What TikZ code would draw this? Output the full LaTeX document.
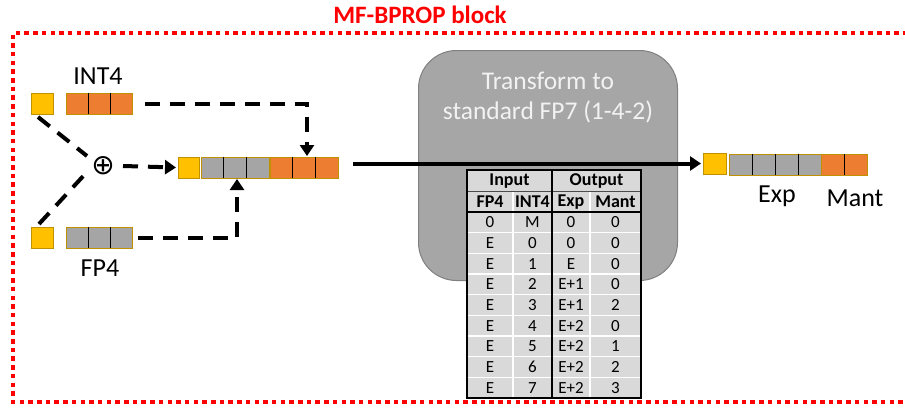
\documentclass[tikz,border=0pt]{standalone}
\usepackage{fontspec}
\setmainfont{Carlito}
\newfontfamily\symfont{DejaVu Sans}
\usetikzlibrary{arrows.meta,calc}
\definecolor{signy}{HTML}{FFC000}
\definecolor{orng}{HTML}{ED7D31}
\definecolor{gry}{HTML}{A5A5A5}
\definecolor{gold}{HTML}{BF9000}
\definecolor{boxg}{HTML}{A6A6A6}
\definecolor{boxedge}{HTML}{808080}
\definecolor{tabg}{HTML}{D9D9D9}
\definecolor{redln}{HTML}{FF0000}
\definecolor{boxtxt}{HTML}{F2F2F2}
\begin{document}
\begin{tikzpicture}[x=1pt,y=-1pt,
  cellbox/.style={draw=gold, line width=1pt, minimum height=21pt, inner sep=0pt, outer sep=0pt, anchor=north west},
  sgn/.style={cellbox, fill=signy, minimum width=22pt},
  obar/.style={cellbox, fill=orng},
  gbar/.style={cellbox, fill=gry},
  divln/.style={black, line width=0.8pt},
  dashln/.style={black, line width=4pt, dash pattern=on 15pt off 10pt},
  solidln/.style={black, line width=4pt},
  arr/.style={-{Triangle[length=11pt,width=14pt]}},
  lbl/.style={font=\fontsize{26}{30}\selectfont, inner sep=0pt},
  tabtxt/.style={font=\fontsize{17}{20}\selectfont, inner sep=0pt},
  tabhd/.style={font=\bfseries\fontsize{18}{21}\selectfont, inner sep=0pt}
]
\useasboundingbox (0,0) rectangle (905,407);
\clip (0,0) rectangle (905,407);

% block frame and title
\draw[redln, line width=4pt, dash pattern=on 4.5pt off 4.2pt] (925,33) -- (13,33) -- (13,402) -- (925,402);
\node[text=redln, font=\bfseries\fontsize{25}{29}\selectfont, inner sep=0pt] (title) at (420,15) {MF-BPROP block};

% transform box
\node[draw=boxedge, fill=boxg, rounded corners=38pt, line width=1pt, minimum width=259pt, minimum height=230pt, anchor=north west, inner sep=0pt] (tbox) at (418,50) {};
\node[text=boxtxt, align=center, font=\fontsize{25.5}{30}\selectfont, inner sep=0pt] (ttxt) at (548,98) {Transform to\\standard FP7 (1-4-2)};

% table
\node[fill=tabg, minimum width=174pt, minimum height=228pt, anchor=north west, inner sep=0pt, outer sep=0pt] (tab) at (467,170) {};
\foreach \k in {1,...,8} {
  \draw[white, line width=1.2pt] (467,212+\k*20.667) -- (641,212+\k*20.667);
}
\draw[white, line width=1.2pt] (513,191) -- (513,398);
\draw[white, line width=1.2pt] (590,191) -- (590,398);
\draw[black!70, line width=1pt] (467,191) -- (641,191);
\draw[black, line width=1.5pt] (467,212) -- (641,212);
\draw[black, line width=1.5pt] (552,170) -- (552,398);
\draw[black, line width=1.5pt] (tab.north west) rectangle (tab.south east);
\node[tabhd] (hin) at (509.5,181) {Input};
\node[tabhd] (hout) at (596.5,181) {Output};
\node[tabhd] (hfp) at (490,202) {FP4};
\node[tabhd] (hint) at (532.5,202) {INT4};
\node[tabhd] (hexp) at (571,202) {Exp};
\node[tabhd] (hman) at (615.5,202) {Mant};
\foreach \a/\b/\c/\d [count=\i] in {0/M/0/0, E/0/0/0, E/1/E/0, E/2/E+1/0, E/3/E+1/2, E/4/E+2/0, E/5/E+2/1, E/6/E+2/2, E/7/E+2/3} {
  \node[tabtxt] (r\i a) at (490,212+\i*20.667-10.33) {\a};
  \node[tabtxt] (r\i b) at (532.5,212+\i*20.667-10.33) {\b};
  \node[tabtxt] (r\i c) at (571,212+\i*20.667-10.33) {\c};
  \node[tabtxt] (r\i d) at (615.5,212+\i*20.667-10.33) {\d};
}

% INT4 input
\node[sgn] (s1) at (31,93) {};
\node[obar, minimum width=66pt] (b1) at (66,93) {};
\foreach \i in {1,2} \draw[divln] ([xshift=\i*22pt]b1.north west) -- ([xshift=\i*22pt]b1.south west);
\node[lbl] (lint) at (98,76) {INT4};

% FP4 input
\node[sgn] (s2) at (31,227) {};
\node[gbar, minimum width=66pt] (b2) at (66,227) {};
\foreach \i in {1,2} \draw[divln] ([xshift=\i*22pt]b2.north west) -- ([xshift=\i*22pt]b2.south west);
\node[lbl] (lfp) at (100,268) {FP4};

% xor
\node[inner sep=0pt, font=\symfont\fontsize{28}{32}\selectfont] (xor) at (103,166) {⊕};

% combined word
\node[sgn, minimum width=21pt] (s3) at (178,157) {};
\node[gbar, minimum width=68pt] (b3) at (201,157) {};
\foreach \i in {1,2} \draw[divln] ([xshift=\i*22.67pt]b3.north west) -- ([xshift=\i*22.67pt]b3.south west);
\node[obar, minimum width=68pt] (b4) at (270,157) {};
\foreach \i in {1,2} \draw[divln] ([xshift=\i*22.67pt]b4.north west) -- ([xshift=\i*22.67pt]b4.south west);

% output word
\node[sgn, minimum width=23pt] (s4) at (703,153) {};
\node[gbar, minimum width=92pt] (b5) at (729,154) {};
\foreach \i in {1,2,3} \draw[divln] ([xshift=\i*23pt]b5.north west) -- ([xshift=\i*23pt]b5.south west);
\node[obar, minimum width=46pt] (b6) at (821,154) {};
\draw[divln] ([xshift=23pt]b6.north west) -- ([xshift=23pt]b6.south west);
\node[lbl] (lexp) at (777,196) {Exp};
\node[lbl] (lman) at (855,198) {Mant};

% connectors (shifts are in paper direction: positive yshift = up)
\draw[dashln] ([xshift=-4pt,yshift=-3pt]s1.south) -- ([xshift=-16pt,yshift=10pt]xor.center);
\draw[dashln] ([xshift=-3pt,yshift=3pt]s2.north) -- ([xshift=-16pt,yshift=-6pt]xor.center);
\draw[dashln, arr] ([xshift=20pt]xor.center) -- ([xshift=-2pt]s3.west);
\draw[dashln, arr] ([xshift=13pt]b1.east) -| ([xshift=3pt,yshift=1pt]b4.north);
\draw[dashln, arr] ([xshift=6pt]b2.east) -| ([xshift=2pt,yshift=-1pt]b3.south);
\draw[solidln, arr] ([xshift=15pt]b4.east |- s4.west) -- ([xshift=-2pt]s4.west);
\end{tikzpicture}
\end{document}
